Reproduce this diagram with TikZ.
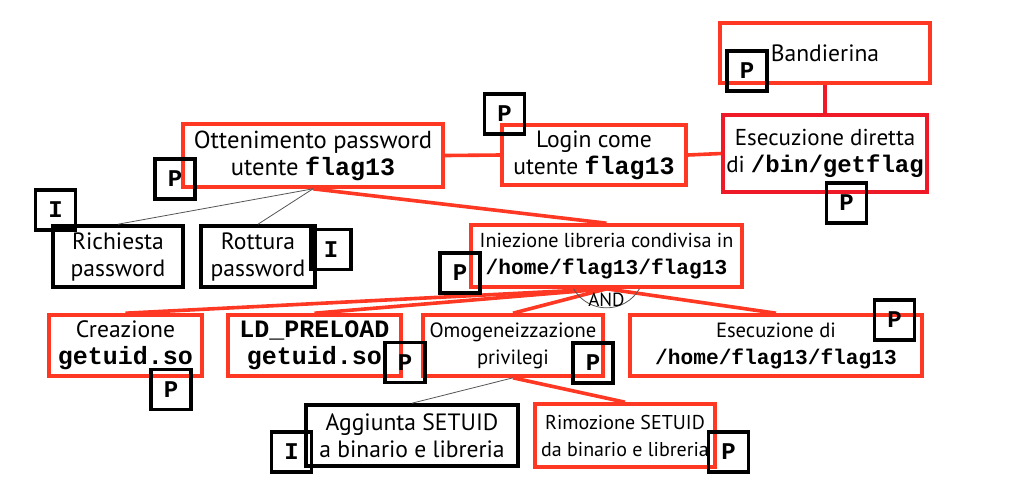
\documentclass[tikz,border=0pt]{standalone}
\usepackage{fontspec}
\setmainfont{PT Sans}
\setmonofont{Liberation Mono}
\usepackage{xcolor}
\definecolor{attack-red}{HTML}{FF3823}
\definecolor{deep-red}{HTML}{EE1A28}
\definecolor{soft-line}{HTML}{555555}
\newcommand{\cmd}[1]{{\fontsize{12.5}{13.5}\selectfont\ttfamily\bfseries #1}}
\newcommand{\smcmd}[1]{{\fontsize{10.6}{13.5}\selectfont\ttfamily\bfseries #1}}

\begin{document}
\begin{tikzpicture}[x=0.5pt, y=-0.5pt,
    every node/.style={font=\fontsize{11.8}{13.5}\selectfont, align=center, inner sep=0pt},
    small/.style={font=\fontsize{10.3}{13.5}\selectfont},
    redbox/.style={draw=attack-red, line width=1.8pt},
    blkbox/.style={draw=black, line width=1.8pt},
    badge/.style={draw=black, line width=1.7pt, minimum size=20pt,
      font=\fontsize{12}{12}\selectfont\ttfamily\bfseries},
    redline/.style={draw=attack-red, line width=1.8pt},
    thinline/.style={draw=soft-line, line width=0.4pt}]
    \useasboundingbox (0, 0) rectangle (1033, 484);
    % goal and direct path
    \node[redbox, minimum width=105pt, minimum height=30pt] (bandiera) at (825, 53) {Bandierina};
    \node[redbox, draw=deep-red, minimum width=102pt, minimum height=38.5pt,
      font=\fontsize{11.5}{13.5}\selectfont] (esecdir) at (825, 153.5)
      {Esecuzione diretta\\di {\fontsize{12}{13.5}\selectfont\ttfamily\bfseries /bin/getflag}};
    \node[redbox, minimum width=92pt, minimum height=30pt] (login) at (594, 155)
      {Login come\\utente \cmd{flag13}};
    \node[redbox, minimum width=130pt, minimum height=31.5pt,
      font=\fontsize{12.3}{13.5}\selectfont] (pwd) at (313, 155.5)
      {Ottenimento password\\utente \cmd{flag13}};
    \node[blkbox, minimum width=65pt, minimum height=30.5pt] (richiesta) at (118, 256.5)
      {Richiesta\\password};
    \node[blkbox, minimum width=57pt, minimum height=30.5pt] (rottura) at (258, 256.5)
      {Rottura\\password};
    % library injection subtree
    \node[redbox, font=\fontsize{10.1}{13.5}\selectfont, minimum width=135.5pt,
      minimum height=31pt] (iniez) at (606.5, 256)
      {Iniezione libreria condivisa in\\\smcmd{/home/flag13/flag13}};
    \node[redbox, minimum width=76.5pt, minimum height=30.5pt] (creaz) at (125.5, 345.5)
      {Creazione\\\cmd{getuid.so}};
    \node[redbox, minimum width=86.5pt, minimum height=30.5pt] (ldpre) at (314.5, 345.5)
      {\cmd{LD\_PRELOAD}\\\cmd{getuid.so}};
    \node[redbox, small, minimum width=90pt, minimum height=30.5pt] (omog) at (513, 345.5)
      {Omogeneizzazione\\privilegi};
    \node[redbox, small, minimum width=146pt, minimum height=30.5pt] (esecdi) at (776, 345.5)
      {Esecuzione di\\\smcmd{/home/flag13/flag13}};
    \node[blkbox, minimum width=106pt, minimum height=30.5pt] (aggiunta) at (412, 435.5)
      {Aggiunta SETUID\\a binario e libreria};
    \node[redbox, font=\fontsize{10}{13.5}\selectfont, minimum width=90pt,
      minimum height=31.5pt] (rimoz) at (625, 435.5)
      {Rimozione SETUID\\da binario e libreria};

    \draw[redline, draw=deep-red] (bandiera.south) -- (esecdir.north);
    \draw[redline] (login.east) -- (esecdir.west);
    \draw[redline] (pwd.east) -- (login.west);
    \draw[thinline] (pwd.south) -- (richiesta.north);
    \draw[thinline] (pwd.south) -- (rottura.north);
    \draw[redline] (pwd.south) -- (iniez.north);
    \draw[redline] (iniez.south) -- (creaz.north);
    \draw[redline] (iniez.south) -- (ldpre.north);
    \draw[redline] (iniez.south) -- (omog.north);
    \draw[redline] (iniez.south) -- (esecdi.north);
    \draw[thinline] (omog.south) -- (aggiunta.north);
    \draw[redline] (omog.south) -- (rimoz.north);
    \coordinate (andc) at ([yshift=9.5pt]iniez.south);
    \draw[thinline] (andc) ++(210:19pt) arc[start angle=210, end angle=330, radius=19pt];
    \node[font=\fontsize{9.5}{10}\selectfont] (andlbl) at ([yshift=-5.5pt]iniez.south) {AND};

    % P / I markers
    \node[badge] (bBand) at (747, 71) {P};
    \node[badge] (bEsecdir) at (846.5, 203) {P};
    \node[badge] (bLogin) at (504.5, 114) {P};
    \node[badge] (bPwd) at (175, 179) {P};
    \node[badge] (bRich) at (55.5, 210) {I};
    \node[badge] (bRott) at (331, 249.5) {I};
    \node[badge] (bIniez) at (460, 273) {P};
    \node[badge] (bCreaz) at (171, 389.5) {P};
    \node[badge] (bLdpre) at (405, 362.5) {P};
    \node[badge] (bOmog) at (593, 363) {P};
    \node[badge] (bEsecdi) at (894.5, 320) {P};
    \node[badge] (bAgg) at (291.5, 452) {I};
    \node[badge] (bRimoz) at (728.5, 452) {P};
  \end{tikzpicture}
\end{document}
